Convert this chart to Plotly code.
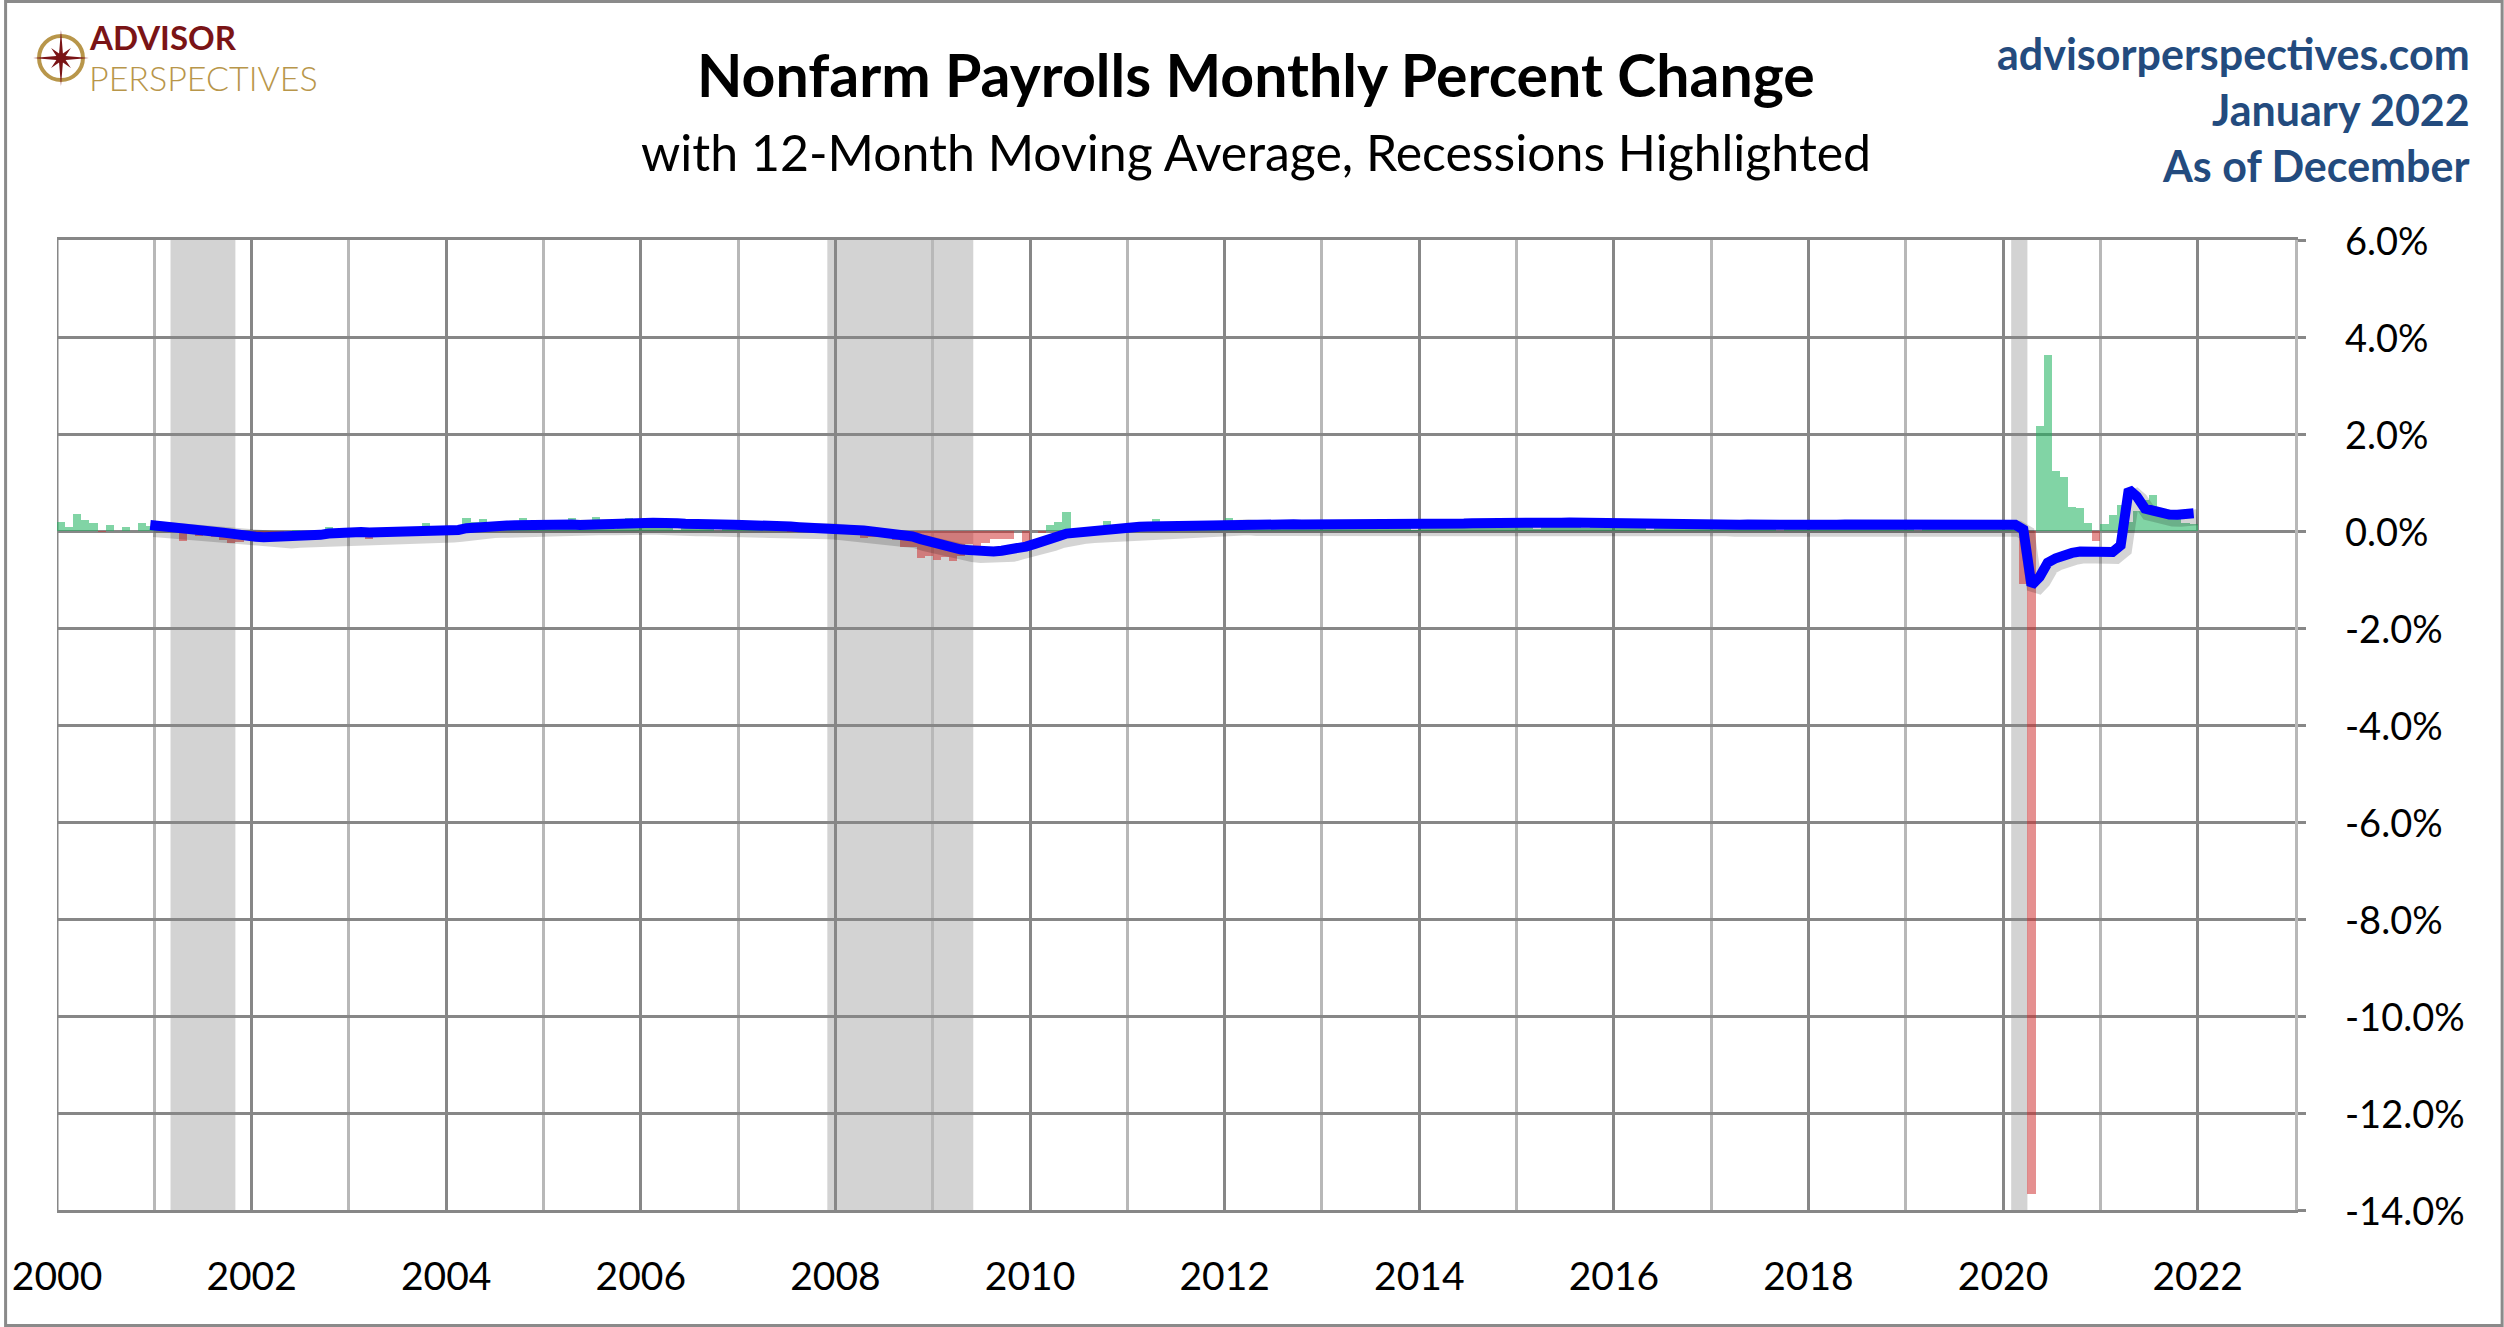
import math
import numpy as np
import plotly.graph_objects as go

# ---------------- DATA ----------------
start_year = 2000
# Nonfarm payrolls, monthly percent change (Jan 2000 .. Dec 2021)
monthly_pct = [
    # 2000
    0.19, 0.09, 0.36, 0.22, 0.17, -0.03, 0.12, -0.01, 0.09, -0.01, 0.17, 0.11,
    # 2001
    0.03, 0.05, -0.02, -0.21, -0.03, -0.10, -0.09, -0.12, -0.18, -0.25, -0.22, -0.14,
    # 2002
    -0.10, -0.07, -0.02, -0.06, -0.01, 0.03, -0.07, 0.00, -0.04, 0.09, 0.01, -0.12,
    # 2003
    0.07, -0.12, -0.16, -0.04, 0.00, 0.00, 0.02, -0.03, 0.08, 0.16, 0.01, 0.09,
    # 2004
    0.11, 0.03, 0.26, 0.19, 0.24, 0.06, 0.04, 0.09, 0.12, 0.27, 0.05, 0.10,
    # 2005
    0.10, 0.18, 0.10, 0.27, 0.13, 0.18, 0.28, 0.15, 0.05, 0.06, 0.26, 0.12,
    # 2006
    0.21, 0.23, 0.21, 0.13, 0.02, 0.06, 0.15, 0.13, 0.12, 0.00, 0.15, 0.13,
    # 2007
    0.17, 0.06, 0.14, 0.06, 0.10, 0.05, -0.02, -0.01, 0.06, 0.06, 0.09, 0.07,
    # 2008
    0.01, -0.06, -0.06, -0.15, -0.13, -0.12, -0.15, -0.19, -0.33, -0.34, -0.56, -0.51,
    # 2009
    -0.59, -0.53, -0.62, -0.52, -0.27, -0.36, -0.25, -0.16, -0.17, -0.16, 0.00, -0.22,
    # 2010
    0.01, -0.05, 0.12, 0.19, 0.40, -0.11, -0.05, 0.00, -0.04, 0.20, 0.09, 0.08,
    # 2011
    0.03, 0.15, 0.18, 0.24, 0.08, 0.17, 0.07, 0.08, 0.19, 0.16, 0.11, 0.16,
    # 2012
    0.27, 0.18, 0.18, 0.06, 0.09, 0.06, 0.11, 0.13, 0.15, 0.11, 0.10, 0.18,
    # 2013
    0.14, 0.23, 0.10, 0.14, 0.16, 0.11, 0.10, 0.20, 0.12, 0.16, 0.20, 0.03,
    # 2014
    0.14, 0.12, 0.20, 0.23, 0.15, 0.22, 0.17, 0.16, 0.21, 0.14, 0.24, 0.21,
    # 2015
    0.14, 0.19, 0.05, 0.20, 0.23, 0.13, 0.20, 0.11, 0.07, 0.23, 0.19, 0.17,
    # 2016
    0.09, 0.17, 0.16, 0.11, 0.03, 0.21, 0.20, 0.12, 0.17, 0.09, 0.11, 0.11,
    # 2017
    0.18, 0.13, 0.05, 0.12, 0.10, 0.16, 0.12, 0.14, 0.01, 0.18, 0.15, 0.12,
    # 2018
    0.12, 0.22, 0.10, 0.13, 0.18, 0.16, 0.06, 0.19, 0.05, 0.13, 0.11, 0.15,
    # 2019
    0.18, 0.00, 0.10, 0.14, 0.06, 0.12, 0.13, 0.14, 0.14, 0.12, 0.17, 0.12,
    # 2020
    0.14, 0.16, -1.09, -13.67, 2.16, 3.63, 1.24, 1.11, 0.49, 0.47, 0.17, -0.21,
    # 2021
    0.15, 0.34, 0.54, 0.19, 0.41, 0.64, 0.74, 0.33, 0.29, 0.43, 0.17, 0.15,
]
ma_window = 12  # 12-month moving average

# Recessions (start month, end month)
recession_starts = ["2001-03", "2007-12", "2020-02"]
recession_ends = ["2001-11", "2009-06", "2020-04"]

year_ticks = [2000, 2002, 2004, 2006, 2008, 2010, 2012, 2014, 2016, 2018, 2020, 2022]
year_labels = [str(y) for y in year_ticks]
y_ticks = [6, 4, 2, 0, -2, -4, -6, -8, -10, -12, -14]
y_labels = ["6.0%", "4.0%", "2.0%", "0.0%", "-2.0%", "-4.0%", "-6.0%",
            "-8.0%", "-10.0%", "-12.0%", "-14.0%"]

title_text = "Nonfarm Payrolls Monthly Percent Change"
subtitle_text = "with 12-Month Moving Average, Recessions Highlighted"
corner_lines = ["advisorperspectives.com", "January 2022", "As of December"]
logo_lines = ["ADVISOR", "PERSPECTIVES"]

# ---------------- GEOMETRY ----------------
W, H = 2504, 1327
L, R, T, B = 53, 2295, 240, 1210  # plot area in pixels


def px_x(px):
    return (px - L) / (R - L)


def px_y(py):
    return (B - py) / (B - T)


def ym_to_dec(s):
    y, m = s.split("-")
    return int(y) + (int(m) - 1) / 12


vals = np.array(monthly_pct)
n = len(vals)
x_mid = start_year + (np.arange(n) + 0.5) / 12
ma = np.convolve(vals, np.ones(ma_window) / ma_window, mode="valid")
x_ma = x_mid[ma_window - 1:]

GREEN = "rgba(30,178,95,0.56)"
RED = "rgba(205,45,45,0.53)"
bar_colors = [GREEN if v >= 0 else RED for v in vals]

DARK = "#878787"
LIGHT = "#B8B8B8"
BAND = "#D3D3D3"
FONT = "Lato"

fig = go.Figure()
fig.add_trace(go.Bar(x=x_mid, y=vals, width=[1 / 12] * n,
                     marker=dict(color=bar_colors, line=dict(width=0)),
                     showlegend=False, hoverinfo="skip"))
# soft drop shadow under the moving-average line
fig.add_trace(go.Scatter(x=x_ma + 0.035, y=ma - 0.08, mode="lines",
                         line=dict(color="rgba(0,0,0,0.17)", width=16),
                         showlegend=False, hoverinfo="skip"))
fig.add_trace(go.Scatter(x=x_ma, y=ma, mode="lines",
                         line=dict(color="#0000FF", width=10),
                         showlegend=False))

shapes = []
for s, e in zip(recession_starts, recession_ends):
    shapes.append(dict(type="rect", xref="x", yref="paper",
                       x0=ym_to_dec(s), x1=ym_to_dec(e), y0=0, y1=1,
                       fillcolor=BAND, line=dict(width=0), layer="below"))

# left edge (2000) gridline
shapes.append(dict(type="line", xref="x", yref="paper", x0=2000, x1=2000, y0=0, y1=1,
                   line=dict(color=DARK, width=3), layer="below"))

# outer frame
shapes.append(dict(type="rect", xref="paper", yref="paper",
                   x0=px_x(1.5), x1=px_x(W - 1.5), y0=px_y(1.5), y1=px_y(H - 1.5),
                   line=dict(color="#8A8A8A", width=3), fillcolor="rgba(0,0,0,0)",
                   layer="above"))

# logo compass
cx, cy = 57, 58
shapes.append(dict(type="circle", xref="paper", yref="paper",
                   x0=px_x(cx - 22), x1=px_x(cx + 22), y0=px_y(cy + 22), y1=px_y(cy - 22),
                   line=dict(color="#B8964A", width=4), layer="above"))
pts = []
for k in range(8):
    a = math.radians(k * 45)
    r_tip = 28 if k % 2 == 0 else 14
    pts.append((cx + r_tip * math.sin(a), cy - r_tip * math.cos(a)))
    a2 = math.radians(k * 45 + 22.5)
    pts.append((cx + 5 * math.sin(a2), cy - 5 * math.cos(a2)))
path = "M " + " L ".join(f"{px_x(px):.5f},{px_y(py):.5f}" for px, py in pts) + " Z"
shapes.append(dict(type="path", xref="paper", yref="paper", path=path,
                   fillcolor="#7A1416", line=dict(width=0), layer="above"))

annotations = [
    dict(text="<b>" + title_text + "</b>", x=px_x(1254), y=px_y(75), xref="paper", yref="paper",
         xanchor="center", yanchor="middle", showarrow=False,
         font=dict(family=FONT, size=59, color="black")),
    dict(text=subtitle_text, x=px_x(1254), y=px_y(152), xref="paper", yref="paper",
         xanchor="center", yanchor="middle", showarrow=False,
         font=dict(family=FONT, size=50, color="black")),
    dict(text="<b>" + logo_lines[0] + "</b>", x=px_x(84), y=px_y(37), xref="paper", yref="paper",
         xanchor="left", yanchor="middle", showarrow=False, borderpad=0,
         font=dict(family=FONT, size=33, color="#7A1416")),
    dict(text=logo_lines[1], x=px_x(84), y=px_y(78), xref="paper", yref="paper",
         xanchor="left", yanchor="middle", showarrow=False, borderpad=0,
         font=dict(family=FONT, size=34, color="#B8964A", weight=300)),
]
for i, line in enumerate(corner_lines):
    annotations.append(dict(text="<b>" + line + "</b>", x=px_x(2472), y=px_y(53 + 56 * i),
                            xref="paper", yref="paper", xanchor="right", yanchor="middle",
                            showarrow=False,
                            font=dict(family=FONT, size=43, color="#234B7E")))
# right-axis tick labels, left-aligned as in the reference
for v, lab in zip(y_ticks, y_labels):
    annotations.append(dict(text=lab, x=px_x(2343), y=v, xref="paper", yref="y",
                            xanchor="left", yanchor="middle", showarrow=False,
                            font=dict(family=FONT, size=38, color="black")))

fig.update_layout(
    width=W, height=H,
    margin=dict(l=L, r=W - R, t=T, b=H - B, pad=0),
    paper_bgcolor="white", plot_bgcolor="white",
    bargap=0, barmode="overlay",
    shapes=shapes, annotations=annotations,
    showlegend=False,
    font=dict(family=FONT, color="black"),
    xaxis=dict(range=[2000, 2023], tickmode="array", tickvals=year_ticks, ticktext=year_labels,
               showgrid=True, gridcolor=DARK, gridwidth=2.5,
               minor=dict(tickmode="linear", tick0=2000, dtick=1, showgrid=True,
                          gridcolor=LIGHT, gridwidth=2.5),
               zeroline=False, showline=True, mirror=True, linecolor=DARK, linewidth=3,
               ticks="", ticklabelstandoff=30,
               tickfont=dict(family=FONT, size=39, color="black")),
    yaxis=dict(range=[-14, 6], side="right", tickmode="array", tickvals=y_ticks,
               showticklabels=False,
               showgrid=True, gridcolor=DARK, gridwidth=2.5,
               zeroline=True, zerolinecolor=DARK, zerolinewidth=2.5,
               showline=True, linecolor=LIGHT, linewidth=2.5,
               ticks="outside", ticklen=8, tickcolor=DARK, tickwidth=2.5),
)

fig.write_html("out.html", config={"displayModeBar": False},
               post_script="document.body.style.margin='0';document.body.style.overflow='hidden';")
